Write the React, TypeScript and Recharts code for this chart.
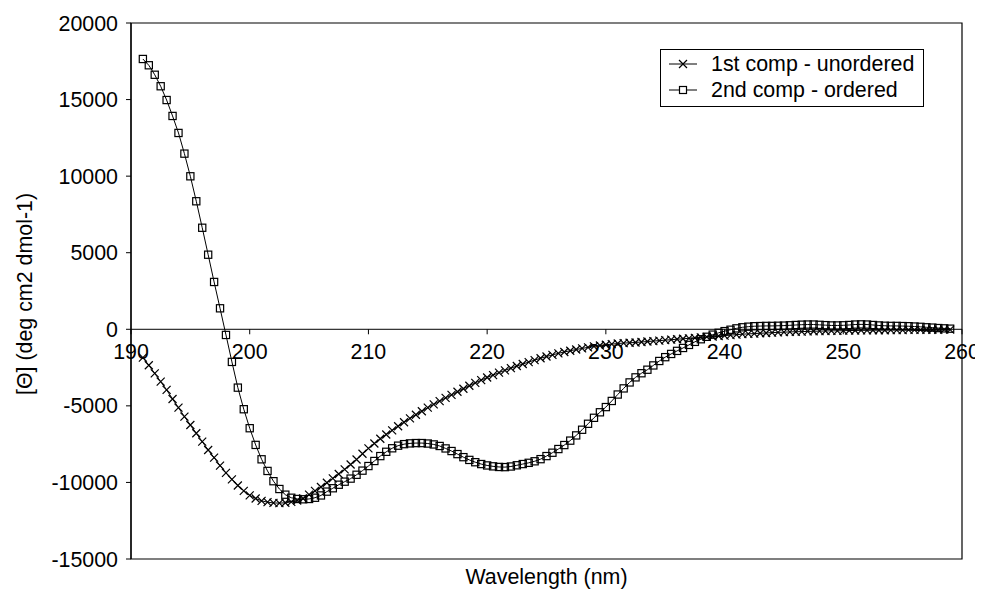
import React from "react";
import { LineChart, Line, XAxis, YAxis, ReferenceLine, ReferenceArea, ReferenceDot, Legend } from "recharts";

const wavelengths = [
  191, 191.5, 192, 192.5, 193, 193.5, 194, 194.5, 195, 195.5,
  196, 196.5, 197, 197.5, 198, 198.5, 199, 199.5, 200, 200.5,
  201, 201.5, 202, 202.5, 203, 203.5, 204, 204.5, 205, 205.5,
  206, 206.5, 207, 207.5, 208, 208.5, 209, 209.5, 210, 210.5,
  211, 211.5, 212, 212.5, 213, 213.5, 214, 214.5, 215, 215.5,
  216, 216.5, 217, 217.5, 218, 218.5, 219, 219.5, 220, 220.5,
  221, 221.5, 222, 222.5, 223, 223.5, 224, 224.5, 225, 225.5,
  226, 226.5, 227, 227.5, 228, 228.5, 229, 229.5, 230, 230.5,
  231, 231.5, 232, 232.5, 233, 233.5, 234, 234.5, 235, 235.5,
  236, 236.5, 237, 237.5, 238, 238.5, 239, 239.5, 240, 240.5,
  241, 241.5, 242, 242.5, 243, 243.5, 244, 244.5, 245, 245.5,
  246, 246.5, 247, 247.5, 248, 248.5, 249, 249.5, 250, 250.5,
  251, 251.5, 252, 252.5, 253, 253.5, 254, 254.5, 255, 255.5,
  256, 256.5, 257, 257.5, 258, 258.5, 259,
];

const unordered = [
  -1850, -2350, -2880, -3420, -3960, -4550, -5120, -5700, -6250, -6790,
  -7340, -7880, -8380, -8900, -9380, -9800, -10200, -10550, -10850, -11050,
  -11200, -11290, -11340, -11350, -11330, -11270, -11180, -11050, -10800, -10550,
  -10300, -10020, -9740, -9450, -9150, -8830, -8500, -8130, -7780, -7460,
  -7150, -6870, -6600, -6330, -6070, -5820, -5580, -5350, -5120, -4900,
  -4690, -4480, -4280, -4080, -3880, -3690, -3500, -3320, -3150, -2990,
  -2830, -2680, -2540, -2400, -2270, -2140, -2010, -1890, -1780, -1670,
  -1570, -1480, -1400, -1320, -1250, -1180, -1120, -1060, -1010, -970,
  -930, -900, -880, -860, -830, -800, -770, -740, -710, -680,
  -650, -620, -590, -560, -530, -500, -470, -440, -410, -380,
  -350, -320, -300, -280, -260, -240, -220, -200, -190, -170,
  -160, -150, -140, -130, -120, -110, -100, -100, -90, -80,
  -80, -70, -70, -60, -60, -60, -50, -50, -50, -40,
  -40, -40, -30, -30, -30, -20, -20,
];

const ordered = [
  17650, 17240, 16620, 15870, 14970, 13930, 12820, 11470, 9990, 8360,
  6630, 4870, 3090, 1370, -370, -2130, -3810, -5220, -6460, -7550,
  -8490, -9250, -9920, -10430, -10800, -11000, -11080, -11100, -11080, -11000,
  -10850, -10600, -10380, -10150, -9950, -9750, -9500, -9230, -8930, -8600,
  -8280, -8000, -7770, -7600, -7500, -7450, -7430, -7430, -7460, -7520,
  -7620, -7780, -7950, -8150, -8350, -8530, -8680, -8800, -8890, -8950,
  -8990, -9000, -8960, -8880, -8800, -8720, -8620, -8480, -8280, -8060,
  -7820, -7560, -7270, -6930, -6560, -6170, -5780, -5420, -5080, -4680,
  -4260, -3860, -3470, -3140, -2870, -2640, -2360, -2070, -1820, -1610,
  -1410, -1220, -1020, -820, -650, -490, -350, -230, -120, -30,
  60, 130, 170, 200, 210, 220, 220, 230, 240, 260,
  280, 300, 310, 310, 290, 270, 250, 250, 260, 280,
  310, 320, 310, 280, 250, 230, 220, 220, 210, 200,
  180, 160, 130, 110, 80, 60, 40,
];

const xTicks = [190, 200, 210, 220, 230, 240, 250, 260];
const yTicks = [-15000, -10000, -5000, 0, 5000, 10000, 15000, 20000];
const seriesNames = ["1st comp - unordered", "2nd comp - ordered"];
const xTitle = "Wavelength (nm)";
const yTitle = "[\u0398] (deg cm2 dmol-1)";

const data = wavelengths.map((w, i) => ({ w, u: unordered[i], o: ordered[i] }));

const FONT = "'Liberation Sans', Arial, sans-serif";
const FS = 21.4;

const CrossDot = (props: any) => {
  const { cx, cy, index } = props;
  if (cx == null || cy == null) return <g key={`c${index}`} />;
  const s = 4;
  return (
    <path
      key={`c${index}`}
      d={`M${cx - s},${cy - s}L${cx + s},${cy + s}M${cx - s},${cy + s}L${cx + s},${cy - s}`}
      stroke="#000"
      strokeWidth={1.2}
      fill="none"
    />
  );
};

const SquareDot = (props: any) => {
  const { cx, cy, index } = props;
  if (cx == null || cy == null) return <g key={`s${index}`} />;
  const s = 3.6;
  return (
    <rect key={`s${index}`} x={cx - s} y={cy - s} width={2 * s} height={2 * s} stroke="#000" strokeWidth={1.2} fill="none" />
  );
};

const YTitle = (props: any) => {
  const vb = props.viewBox || { x: 0, y: 0, width: 0, height: 0 };
  const cx = vb.x + 17;
  const cy = vb.y + vb.height / 2 + 3;
  return (
    <text
      x={cx}
      y={cy}
      transform={`rotate(-90 ${cx} ${cy})`}
      textAnchor="middle"
      dy="0.35em"
      fontSize={FS}
      fontFamily={FONT}
      fill="#000"
    >
      {yTitle}
    </text>
  );
};

const XTitle = (props: any) => {
  const vb = props.viewBox || { x: 0, y: 0, width: 0, height: 0 };
  return (
    <text x={vb.x + vb.width / 2} y={vb.y + 25} textAnchor="middle" fontSize={FS} fontFamily={FONT} fill="#000">
      {xTitle}
    </text>
  );
};

const LegendBox = () => (
  <div
    style={{
      border: "1px solid #000",
      background: "#fff",
      width: 262,
      height: 55,
      boxSizing: "content-box",
      fontFamily: FONT,
      fontSize: FS,
      color: "#000",
      paddingTop: 1,
    }}
  >
    {seriesNames.map((name, i) => (
      <div key={name} style={{ display: "flex", alignItems: "center", height: 26, lineHeight: "26px" }}>
        <svg width={50} height={26} style={{ display: "block", flex: "none" }}>
          <line x1={8} y1={13} x2={36} y2={13} stroke="#000" strokeWidth={1} />
          {i === 0 ? (
            <path d="M18,9L26,17M18,17L26,9" stroke="#000" strokeWidth={1.2} fill="none" />
          ) : (
            <rect x={18.5} y={9.5} width={7} height={7} stroke="#000" strokeWidth={1.2} fill="#fff" />
          )}
        </svg>
        <span style={{ whiteSpace: "nowrap" }}>{name}</span>
      </div>
    ))}
  </div>
);

export default function App() {
  return (
    <div style={{ width: 975, height: 582, background: "#fff" }}>
      <LineChart width={975} height={582} data={data} margin={{ top: 15, right: 21, bottom: 0, left: 0 }}>
        <XAxis
          dataKey="w"
          type="number"
          domain={[190, 260]}
          ticks={xTicks}
          tick={false}
          tickLine={false}
          axisLine={false}
          height={31}
          label={<XTitle />}
        />
        <YAxis
          type="number"
          domain={[-15000, 20000]}
          ticks={yTicks}
          interval={0}
          width={123}
          tickSize={5}
          tickMargin={8}
          axisLine={{ stroke: "#000", strokeWidth: 1.2 }}
          tickLine={{ stroke: "#000", strokeWidth: 1 }}
          tick={{ fill: "#000", fontSize: FS, fontFamily: FONT }}
          label={<YTitle />}
        />
        <ReferenceArea x1={190} x2={260} y1={-15000} y2={20000} fill="none" fillOpacity={0} stroke="#000" strokeWidth={1.2} />
        <ReferenceLine y={0} stroke="#000" strokeWidth={1} />
        {xTicks.map((t) => (
          <ReferenceDot
            key={`xt${t}`}
            x={t}
            y={0}
            r={0}
            isFront
            ifOverflow="visible"
            shape={(p: any) => (
              <g>
                <line x1={p.cx} y1={p.cy} x2={p.cx} y2={p.cy + 5} stroke="#000" strokeWidth={1} />
                <text x={p.cx} y={p.cy + 30} textAnchor="middle" fontSize={FS} fontFamily={FONT} fill="#000">
                  {t}
                </text>
              </g>
            )}
          />
        ))}
        <Line
          dataKey="u"
          name={seriesNames[0]}
          type="linear"
          stroke="#000"
          strokeWidth={1}
          dot={CrossDot}
          activeDot={false}
          isAnimationActive={false}
        />
        <Line
          dataKey="o"
          name={seriesNames[1]}
          type="linear"
          stroke="#000"
          strokeWidth={1}
          dot={SquareDot}
          activeDot={false}
          isAnimationActive={false}
        />
        <Legend
          layout="vertical"
          align="center"
          verticalAlign="middle"
          content={<LegendBox />}
          wrapperStyle={{ position: "absolute", left: 652, top: 41, width: 264, height: 57 }}
        />
      </LineChart>
    </div>
  );
}
